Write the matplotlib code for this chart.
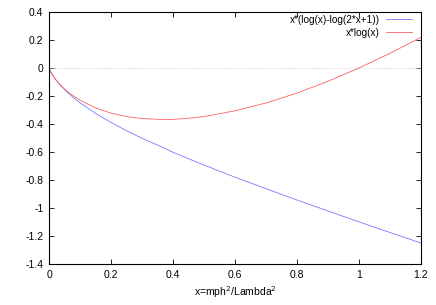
import matplotlib
matplotlib.use("Agg")
from matplotlib import pyplot as plt
from matplotlib.ticker import FuncFormatter

# values
x_vals = [0.0, 0.001, 0.005, 0.01, 0.02, 0.03, 0.05, 0.07, 0.1, 0.15, 0.2, 0.25,
          0.3, 0.368, 0.4, 0.45, 0.5, 0.6, 0.7, 0.8, 0.9, 1.0, 1.1, 1.2]
blue_vals = [0.0, -0.0069, -0.0265, -0.0462, -0.079, -0.107, -0.1546, -0.195,
             -0.2485, -0.324, -0.389, -0.448, -0.502, -0.568, -0.602, -0.648,
             -0.693, -0.780, -0.862, -0.943, -1.021, -1.099, -1.175, -1.250]
red_vals = [0.0, -0.0069, -0.0265, -0.046, -0.078, -0.105, -0.150, -0.186,
            -0.230, -0.285, -0.322, -0.347, -0.361, -0.368, -0.367, -0.359,
            -0.347, -0.306, -0.250, -0.179, -0.095, 0.0, 0.105, 0.219]
labels = ["x*(log(x)-log(2*x+1))", "x*log(x)"]
x_ticks = [0, 0.2, 0.4, 0.6, 0.8, 1.0, 1.2]
y_ticks = [0.4, 0.2, 0, -0.2, -0.4, -0.6, -0.8, -1, -1.2, -1.4]


def main():
    """main"""
    plt.rcParams['font.family'] = ['Liberation Sans', 'DejaVu Sans']
    plt.rcParams['font.size'] = 7.5
    fig = plt.figure(figsize=(4.36, 3.05), dpi=100)
    ax = fig.add_axes([0.1124, 0.1344, 0.8532, 0.8263])

    ax.axhline(0, color='#cccccc', linewidth=0.6, linestyle=(0, (1.5, 2)))
    ax.plot(x_vals, blue_vals, color='#7878ff', linewidth=0.6, label=labels[0])
    ax.plot(x_vals, red_vals, color='#ff6060', linewidth=0.6, label=labels[1])

    ax.set_xlim(0, 1.2)
    ax.set_ylim(-1.4, 0.4)
    ax.set_xticks(x_ticks)
    ax.set_yticks(y_ticks)
    fmt = FuncFormatter(lambda v, p: "%g" % round(v, 2))
    ax.xaxis.set_major_formatter(fmt)
    ax.yaxis.set_major_formatter(fmt)
    ax.tick_params(direction='in', length=3.5, width=0.6, top=True, right=True,
                   labelsize=7.5, pad=4)
    for s in ax.spines.values():
        s.set_linewidth(0.8)

    ax.set_xlabel("x=mph$^2$/Lambda$^2$", fontsize=7.5, labelpad=3)
    ax.legend(loc='upper right', frameon=False, markerfirst=False,
              handlelength=2.6, fontsize=7.2, borderaxespad=0.2,
              labelspacing=0.3, handletextpad=0.7, borderpad=0.1,
              bbox_to_anchor=(0.985, 1.0))

    fig.savefig("out.png", dpi=100)


if __name__ == "__main__":
    main()
